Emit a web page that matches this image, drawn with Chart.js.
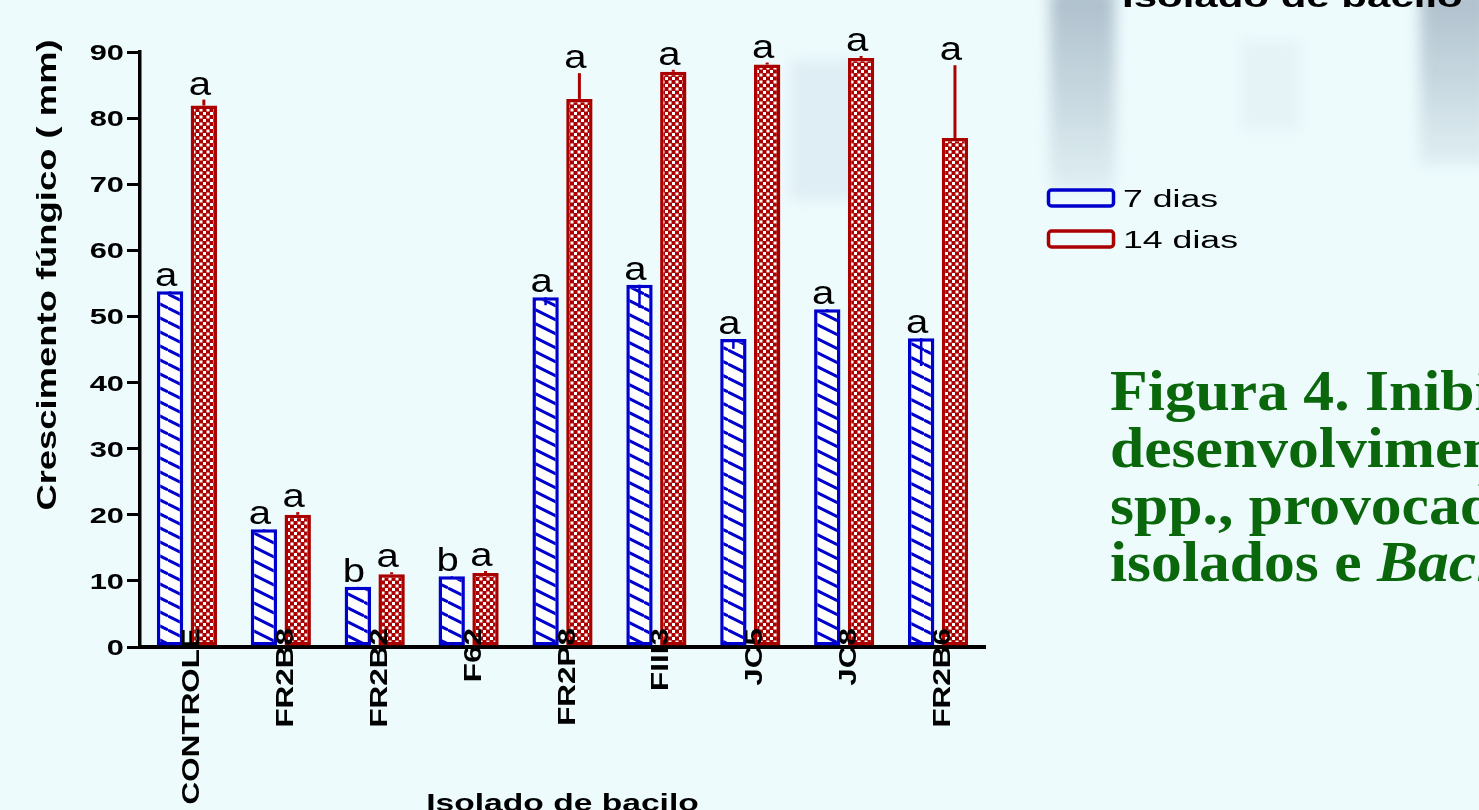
<!DOCTYPE html>
<html>
<head>
<meta charset="utf-8">
<script src="https://cdn.jsdelivr.net/npm/chart.js@4.4.0/dist/chart.umd.min.js"></script>
<style>
  html, body { margin: 0; padding: 0; background: #edfbfd; overflow: hidden; }
  #wrap { position: relative; width: 1479px; height: 810px; }
  .smudge { position: absolute; filter: blur(7px); }
  canvas { position: absolute; left: 0; top: 0; }
</style>
</head>
<body>
<div id="wrap">
  <div class="smudge" style="left:1050px;top:-10px;width:65px;height:200px;background:linear-gradient(180deg, rgba(130,150,170,0.6), rgba(150,175,190,0.15));"></div>
  <div class="smudge" style="left:1420px;top:-10px;width:70px;height:175px;background:linear-gradient(180deg, rgba(130,150,170,0.6), rgba(150,175,190,0.15));"></div>
  <div class="smudge" style="left:790px;top:60px;width:70px;height:140px;background:rgba(150,170,195,0.15);"></div>
  <div class="smudge" style="left:1240px;top:40px;width:60px;height:90px;background:rgba(170,180,200,0.1);"></div>
  <canvas id="barChart" width="1479" height="810"></canvas>
</div>
<script>
// dados
const isolados = ['CONTROLE', 'FR2B8', 'FR2B2', 'F62', 'FR2P8', 'FIII3', 'JC5', 'JC8', 'FR2B6'];
const dias7 = [53.8, 17.8, 9.1, 10.7, 52.9, 54.8, 46.6, 51.1, 46.7];
const dias14 = [81.9, 20.0, 11.0, 11.2, 82.9, 87.0, 88.1, 89.1, 77.0];
const erro7 = [0.5, 0.3, 0.3, 0.3, 1.2, 3.5, 1.5, 0.3, 4.2];
const erro14 = [0.9, 0.4, 0.3, 0.3, 3.9, 0.3, 0.3, 0.3, 11.0];
const letras7 = ['a', 'a', 'b', 'b', 'a', 'a', 'a', 'a', 'a'];
const letras14 = ['a', 'a', 'a', 'a', 'a', 'a', 'a', 'a', 'a'];
const legenda = ['7 dias', '14 dias'];
const tituloX = 'Isolado de bacilo';
const tituloY = 'Crescimento fúngico ( mm)';
const legendaFigura = ['Figura 4. Inibição do', 'desenvolvimento micelial de Fusarium', 'spp., provocado pelos', 'isolados e '];

const AZUL = '#0000cc';
const VERMELHO = '#aa0000';
const SANS = '"Liberation Sans", Arial, sans-serif';

// padrão hachurado (7 dias)
function hatch() {
  const c = document.createElement('canvas');
  c.width = 28; c.height = 14;
  const g = c.getContext('2d');
  g.fillStyle = '#fff';
  g.fillRect(0, 0, 28, 14);
  g.strokeStyle = AZUL;
  g.lineWidth = 3;
  for (const off of [-14, 0, 14]) {
    g.beginPath();
    g.moveTo(0, off);
    g.lineTo(28, off + 14);
    g.stroke();
  }
  return g.createPattern(c, 'repeat');
}

// padrão xadrez (14 dias)
function checker() {
  const c = document.createElement('canvas');
  c.width = 7; c.height = 7;
  const g = c.getContext('2d');
  g.fillStyle = VERMELHO;
  g.fillRect(0, 0, 7, 7);
  g.fillStyle = '#fff';
  g.fillRect(0, 0, 3, 3);
  g.fillRect(3.5, 3.5, 3, 3);
  return g.createPattern(c, 'repeat');
}

function texto(ctx, t, x, y, font, sx, align, rot, color) {
  ctx.save();
  ctx.translate(x, y);
  if (rot) ctx.rotate(rot);
  ctx.scale(sx, 1);
  ctx.font = font;
  ctx.textAlign = align;
  ctx.textBaseline = 'alphabetic';
  ctx.fillStyle = color || '#000';
  ctx.fillText(t, 0, 0);
  ctx.restore();
}

const erros = [erro7, erro14];
const letras = [letras7, letras14];

const extras = {
  id: 'extras',
  afterDatasetsDraw(chart) {
    const ctx = chart.ctx;
    const y = chart.scales.y;
    chart.data.datasets.forEach((ds, i) => {
      const meta = chart.getDatasetMeta(i);
      meta.data.forEach((bar, j) => {
        const v = ds.data[j];
        const e = erros[i][j];
        const dir = i === 0 ? -1 : 1;
        const y0 = y.getPixelForValue(v);
        const y1 = y.getPixelForValue(v + dir * e);
        ctx.save();
        ctx.strokeStyle = ds.borderColor;
        ctx.lineWidth = i === 0 ? 2.5 : 3;
        ctx.beginPath();
        ctx.moveTo(bar.x, y0);
        ctx.lineTo(bar.x, y1);
        ctx.stroke();
        ctx.restore();
        const topo = Math.min(y0, y1);
        texto(ctx, letras[i][j], bar.x - 4, topo - 5, '34px ' + SANS, 1.18, 'center');
      });
    });
  },
  afterDraw(chart) {
    const ctx = chart.ctx;
    const x = chart.scales.x;
    const y = chart.scales.y;
    // marcas do eixo y
    y.ticks.forEach((t, i) => {
      texto(ctx, String(t.value), 124, y.getPixelForTick(i) + 8, 'bold 22px ' + SANS, 1.4, 'right');
    });
    // rótulos do eixo x
    chart.data.labels.forEach((lab, i) => {
      texto(ctx, lab, x.getPixelForTick(i) + 12, 628, 'bold 24px ' + SANS, 1.31, 'right', -Math.PI / 2);
    });
    // títulos
    texto(ctx, tituloY, 56, 275, 'bold 28px ' + SANS, 1.3, 'center', -Math.PI / 2);
    texto(ctx, tituloX, (chart.chartArea.left + chart.chartArea.right) / 2, 811, 'bold 24px ' + SANS, 1.4, 'center');
    texto(ctx, tituloX, 1122, 7, 'bold 30px ' + SANS, 1.4, 'left');
    // legenda
    chart.data.datasets.forEach((ds, i) => {
      const top = 190 + i * 41;
      ctx.save();
      ctx.strokeStyle = ds.borderColor;
      ctx.lineWidth = 3.5;
      ctx.beginPath();
      ctx.roundRect(1048.5, top, 65, 16, 3);
      ctx.stroke();
      ctx.restore();
      texto(ctx, ds.label, 1123, top + 17, '23px ' + SANS, 1.55, 'left');
    });
    // legenda da figura
    const serif = 'bold 56px "Liberation Serif", "Times New Roman", serif';
    const sxs = 1.1;
    legendaFigura.forEach((linha, i) => {
      texto(ctx, linha, 1110, 410 + i * 57, serif, sxs, 'left', 0, '#0b670b');
    });
    ctx.save();
    ctx.font = serif;
    const w = ctx.measureText(legendaFigura[3]).width * sxs;
    ctx.restore();
    texto(ctx, 'Bacillus', 1110 + w, 410 + 3 * 57, 'italic ' + serif, sxs, 'left', 0, '#0b670b');
  }
};

const ctx = document.getElementById('barChart').getContext('2d');
new Chart(ctx, {
  type: 'bar',
  data: {
    labels: isolados,
    datasets: [{
      label: legenda[0],
      data: dias7,
      backgroundColor: hatch(),
      borderColor: AZUL,
      borderWidth: 3.5,
      borderSkipped: false,
      categoryPercentage: 0.72,
      barPercentage: 0.78
    }, {
      label: legenda[1],
      data: dias14,
      backgroundColor: checker(),
      borderColor: VERMELHO,
      borderWidth: 3.5,
      borderSkipped: false,
      categoryPercentage: 0.72,
      barPercentage: 0.78
    }]
  },
  options: {
    responsive: false,
    animation: false,
    layout: { padding: { left: 0, top: 52, right: 494, bottom: 0 } },
    plugins: { legend: { display: false }, tooltip: { enabled: false } },
    scales: {
      x: {
        offset: true,
        grid: { display: false },
        border: { color: '#000', width: 4 },
        ticks: { display: false },
        afterFit: s => { s.height = 163; }
      },
      y: {
        min: 0,
        max: 90,
        ticks: { display: false, stepSize: 10 },
        grid: { drawOnChartArea: false, drawTicks: true, tickLength: 13, lineWidth: 3, color: '#000' },
        border: { color: '#000', width: 3.5 },
        afterFit: s => { s.width = 140; }
      }
    }
  },
  plugins: [extras]
});
</script>
</body>
</html>
